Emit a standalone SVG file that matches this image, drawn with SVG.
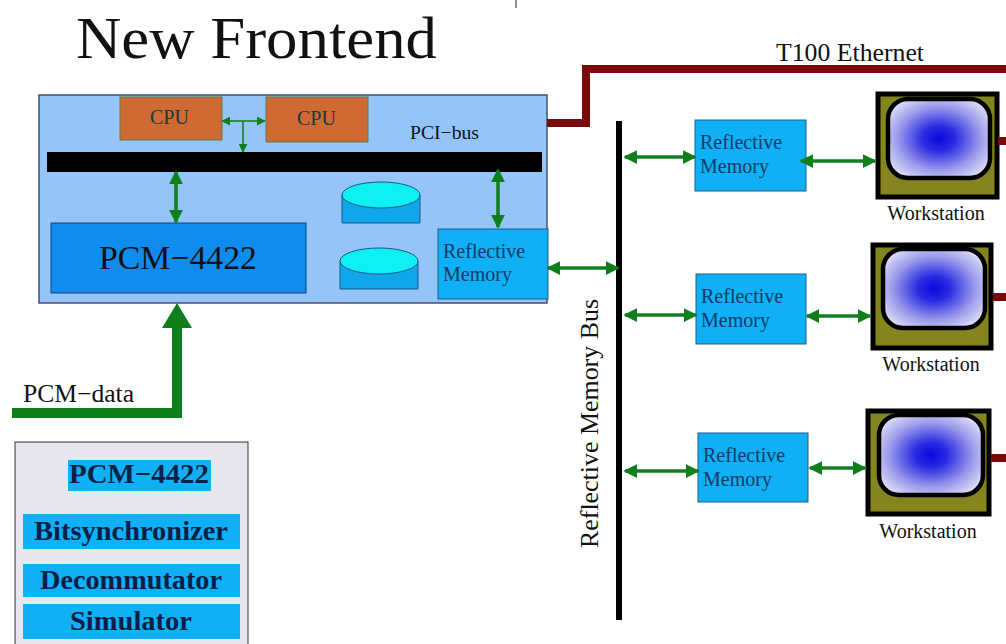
<svg xmlns="http://www.w3.org/2000/svg" width="1006" height="644" viewBox="0 0 1006 644">
<style>
text{font-family:"Liberation Serif","Times New Roman",serif;fill:#111}
.rm{fill:#0fb0f5;stroke:#1a5f8a;stroke-width:1}
.rmt{font-size:20px;fill:#123a66}
.cpu{fill:#cf6a32;stroke:#5f7a50;stroke-width:1}
.cput{font-size:20px;fill:#123a40}
.g{stroke:#0f7f1c;fill:none;stroke-width:3.5}
.t{stroke:#0f7f1c;fill:none;stroke-width:1.5}
.r{stroke:#7a0a0a;fill:none;stroke-width:8}
.ws{fill:#85851f;stroke:#000;stroke-width:5}
.scr{fill:url(#screen);stroke:#000;stroke-width:4.5}
.wst{font-size:20px;text-anchor:middle}
.disk{fill:#11a6ea;stroke:#155a85;stroke-width:1}
.top{fill:#0ff0f5;stroke:#155a85;stroke-width:1}
.lb{fill:#0fb0f5}
.lbt{font-size:27px;font-weight:bold;fill:#0a1f45}
</style>
<defs>
<radialGradient id="screen" cx="50%" cy="50%" r="62%">
<stop offset="0" stop-color="#0808dc"/><stop offset="0.25" stop-color="#2a2ae2"/><stop offset="0.65" stop-color="#9a9aec"/><stop offset="1" stop-color="#e6e6f8"/>
</radialGradient>
<marker id="a" markerWidth="6" markerHeight="6" refX="5.5" refY="3" orient="auto-start-reverse" markerUnits="strokeWidth"><path d="M0 0L6 3L0 6z" fill="#0f7f1c"/></marker>
<marker id="s" markerWidth="4" markerHeight="4" refX="3.5" refY="2" orient="auto-start-reverse" markerUnits="strokeWidth"><path d="M0 0L4 2L0 4z" fill="#0f7f1c"/></marker>
</defs>
<rect width="1006" height="644" fill="#fff"/>
<path d="M516 0V8" stroke="#222" stroke-width="1"/>
<g id="title"><text x="76" y="58" font-size="60" textLength="361" lengthAdjust="spacingAndGlyphs">New Frontend</text></g>
<g id="main-box"><rect x="39" y="95" width="508" height="208" fill="#94c4f8" stroke="#44546a" stroke-width="1.5"/></g>
<g id="cpu1"><rect class="cpu" x="120" y="97" width="102" height="43"/><text class="cput" x="150" y="124">CPU</text></g>
<g id="cpu2"><rect class="cpu" x="266" y="97" width="102" height="45"/><text class="cput" x="297" y="125">CPU</text></g>
<g id="pci-label"><text x="410" y="139" font-size="19" textLength="69" lengthAdjust="spacingAndGlyphs">PCI−bus</text></g>
<g id="pci-bus"><rect x="47" y="152" width="495" height="20" fill="#000"/></g>
<g id="pcm"><rect x="51" y="223" width="255" height="70" fill="#0f8cf0" stroke="#17406e" stroke-width="1"/><text x="99" y="269" font-size="34" fill="#102a5c" textLength="158" lengthAdjust="spacingAndGlyphs">PCM−4422</text></g>
<g id="disk1"><path class="disk" d="M342 195V223H420V195z"/><ellipse class="top" cx="381" cy="195" rx="39" ry="13"/></g>
<g id="disk2"><path class="disk" d="M340 261V289H418V261z"/><ellipse class="top" cx="379" cy="261" rx="39" ry="13"/></g>
<g id="rm0"><rect class="rm" x="438" y="229" width="110" height="70"/><text class="rmt" x="443" y="258">Reflective</text><text class="rmt" x="443" y="281">Memory</text></g>
<g id="rm1"><rect class="rm" x="695" y="120" width="111" height="71"/><text class="rmt" x="700" y="149">Reflective</text><text class="rmt" x="700" y="173">Memory</text></g>
<g id="rm2"><rect class="rm" x="696" y="274" width="110" height="70"/><text class="rmt" x="701" y="303">Reflective</text><text class="rmt" x="701" y="327">Memory</text></g>
<g id="rm3"><rect class="rm" x="698" y="433" width="110" height="69"/><text class="rmt" x="703" y="462">Reflective</text><text class="rmt" x="703" y="486">Memory</text></g>
<g id="ws1"><rect class="ws" x="878" y="94" width="119" height="103"/><rect class="scr" x="888" y="99" width="102" height="79" rx="20"/><text class="wst" x="936" y="220">Workstation</text></g>
<g id="ws2"><rect class="ws" x="873" y="245" width="118" height="103"/><rect class="scr" x="883" y="249" width="102" height="79" rx="20"/><text class="wst" x="931" y="371">Workstation</text></g>
<g id="ws3"><rect class="ws" x="868" y="411" width="121" height="103"/><rect class="scr" x="879" y="415" width="104" height="80" rx="20"/><text class="wst" x="928" y="538">Workstation</text></g>
<g id="rm-bus"><rect x="616" y="121" width="6" height="499" fill="#000"/></g>
<g id="rm-bus-label"><text transform="translate(598 548) rotate(-90)" font-size="26" textLength="249" lengthAdjust="spacingAndGlyphs">Reflective Memory Bus</text></g>
<g id="ethernet-label"><text x="776" y="61" font-size="25" textLength="148" lengthAdjust="spacingAndGlyphs">T100 Ethernet</text></g>
<g id="pcm-data-label"><text x="23" y="402" font-size="25" textLength="111" lengthAdjust="spacingAndGlyphs">PCM−data</text></g>
<g id="legend">
<rect x="15" y="442" width="233" height="210" fill="#e6e6ee" stroke="#333" stroke-width="1"/>
<rect class="lb" x="68" y="460" width="143" height="31"/><text class="lbt" x="69" y="483" textLength="140" lengthAdjust="spacingAndGlyphs">PCM−4422</text>
<rect class="lb" x="23" y="514" width="217" height="35"/><text class="lbt" x="34" y="540" textLength="194" lengthAdjust="spacingAndGlyphs">Bitsynchronizer</text>
<rect class="lb" x="23" y="564" width="217" height="33"/><text class="lbt" x="40" y="589" textLength="182" lengthAdjust="spacingAndGlyphs">Decommutator</text>
<rect class="lb" x="23" y="604" width="217" height="35"/><text class="lbt" x="70" y="630" textLength="122" lengthAdjust="spacingAndGlyphs">Simulator</text>
</g>
<g id="connectors">
<path class="r" d="M547 123H586V69H1006"/>
<path class="r" d="M998 141H1006M993 297H1006M991 458H1006"/>
<path class="t" marker-start="url(#a)" marker-end="url(#a)" d="M222 121H265"/>
<path class="t" marker-end="url(#a)" d="M243 121V152"/>
<path class="g" marker-start="url(#s)" marker-end="url(#s)" d="M176 172V222"/>
<path class="g" marker-start="url(#s)" marker-end="url(#s)" d="M498 170V227"/>
<path class="g" marker-start="url(#s)" marker-end="url(#s)" d="M548 268H618"/>
<path class="g" marker-start="url(#s)" marker-end="url(#s)" d="M625 157H695"/>
<path class="g" marker-start="url(#s)" marker-end="url(#s)" d="M625 315H696"/>
<path class="g" marker-start="url(#s)" marker-end="url(#s)" d="M625 471H698"/>
<path class="g" marker-start="url(#s)" marker-end="url(#s)" d="M801 161H875"/>
<path class="g" marker-start="url(#s)" marker-end="url(#s)" d="M807 316H870"/>
<path class="g" marker-start="url(#s)" marker-end="url(#s)" d="M810 468H865"/>
<path fill="none" stroke="#0f7f1c" stroke-width="10" d="M12 413H177V325"/>
<path fill="#0f7f1c" d="M177 303L192 328H162z"/>
</g>
</svg>
